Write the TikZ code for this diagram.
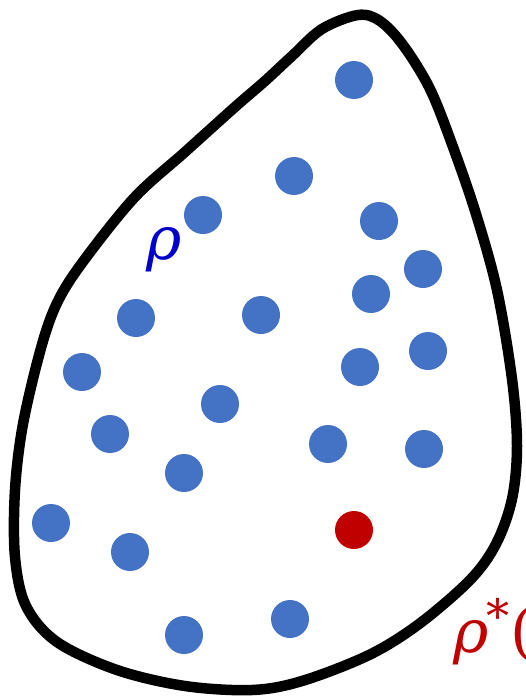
\documentclass[tikz,border=0pt]{standalone}
\usepackage{fontspec}
\newfontfamily\rhofont{DejaVu Serif}
\definecolor{dotblue}{RGB}{68,114,196}
\definecolor{dotred}{RGB}{192,0,0}
\definecolor{lblblue}{RGB}{0,0,204}
\begin{document}
\begin{tikzpicture}[x=1pt,y=-1pt,
  dot/.style={circle,fill=dotblue,inner sep=0pt,minimum size=38pt},
  rdot/.style={circle,fill=dotred,inner sep=0pt,minimum size=38pt},
  lbl/.style={inner sep=0pt,font=\rhofont\itshape\fontsize{60}{62}\selectfont}]
\useasboundingbox (0,0) rectangle (526,699);
\draw[line width=10.5pt,line join=round] plot[smooth cycle,tension=0.55] coordinates {
 (358,15) (380,21) (403,45) (430,89) (453,147) (476,214) (497,290) (512,379)
 (517,446) (512,499) (496,544) (470,580) (419,624) (369,655) (302,681)
 (252,690) (185,686) (117,670) (57,642) (26,606) (15,557) (15,490) (23,424)
 (41,348) (57,303) (82,263) (134,198) (185,152) (235,107) (265,81) (292,56)
 (322,29)};
\node[dot] (d1) at (354,80) {};
\node[dot] (d2) at (294,176) {};
\node[dot] (d3) at (203,215) {};
\node[dot] (d4) at (379,221) {};
\node[dot] (d5) at (423,269) {};
\node[dot] (d6) at (371,294) {};
\node[dot] (d7) at (136,318) {};
\node[dot] (d8) at (261,315) {};
\node[dot] (d9) at (82,372) {};
\node[dot] (d10) at (360,367) {};
\node[dot] (d11) at (428,351) {};
\node[dot] (d12) at (220,404) {};
\node[dot] (d13) at (110,434) {};
\node[dot] (d14) at (328,444) {};
\node[dot] (d15) at (424,449) {};
\node[dot] (d16) at (184,473) {};
\node[dot] (d17) at (51,523) {};
\node[rdot] (r1) at (354,530) {};
\node[dot] (d19) at (130,552) {};
\node[dot] (d20) at (184,635) {};
\node[dot] (d21) at (290,619) {};
\node[lbl,text=lblblue,anchor=base west] (rho) at (146,259) {ρ};
\node[lbl,text=dotred,anchor=base west] (rhos) at (453,652) {ρ\kern-2pt\raisebox{20pt}{\fontsize{46}{46}\selectfont\upshape *}\kern1pt\upshape(};
\end{tikzpicture}
\end{document}
